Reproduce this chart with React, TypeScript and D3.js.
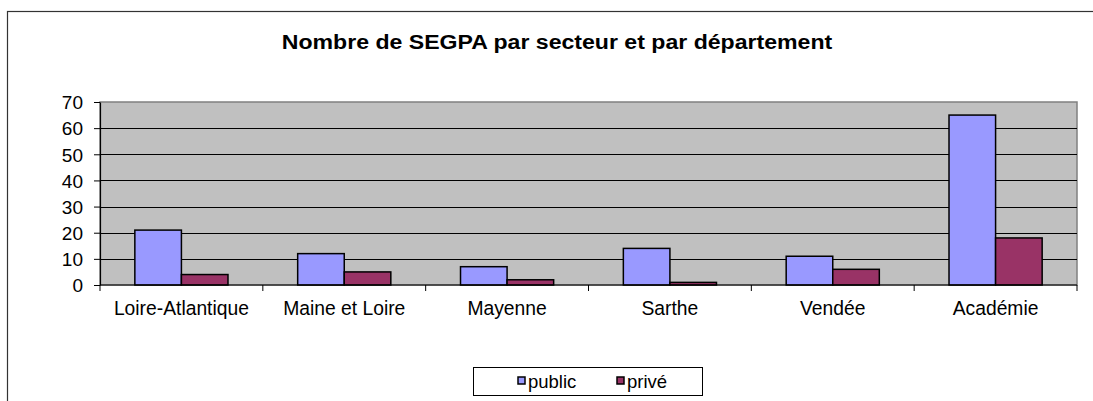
import React, { useRef, useEffect } from "react";
import * as d3 from "d3";

const categories = ["Loire-Atlantique", "Maine et Loire", "Mayenne", "Sarthe", "Vendée", "Académie"];
const seriesNames = ["public", "privé"];
const publicValues = [21, 12, 7, 14, 11, 65];
const priveValues = [4, 5, 2, 1, 6, 18];
const yTicks = [0, 10, 20, 30, 40, 50, 60, 70];
const seriesColors = ["#9999FF", "#993366"];

const App: React.FC = () => {
  const svgRef = useRef<SVGSVGElement>(null);

  useEffect(() => {
    const width = 1093;
    const height = 401;
    const plot = { left: 100, right: 1077, top: 102, bottom: 285 };
    const font = "Arial, 'Liberation Sans', sans-serif";

    const svg = d3.select(svgRef.current);
    svg.selectAll("*").remove();

    // outer chart border (cut off on right and bottom)
    svg.append("rect")
      .attr("x", 7.5).attr("y", 11.5)
      .attr("width", width + 20).attr("height", height + 20)
      .attr("fill", "white")
      .attr("stroke", "#333").attr("stroke-width", 1.2);

    svg.append("text")
      .attr("x", 557).attr("y", 49)
      .attr("text-anchor", "middle")
      .attr("font-family", font)
      .attr("font-weight", "bold")
      .attr("font-size", 21)
      .attr("transform", "translate(557,0) scale(1.1,1) translate(-557,0)")
      .text("Nombre de SEGPA par secteur et par département");

    const x = d3.scaleBand<string>().domain(categories).range([plot.left, plot.right]);
    const y = d3.scaleLinear().domain([0, 70]).range([plot.bottom, plot.top]);

    const barW = x.bandwidth() * 0.286;
    const inner = d3.scaleBand<string>().domain(seriesNames).range([0, barW * 2]);

    svg.append("rect")
      .attr("x", plot.left).attr("y", plot.top)
      .attr("width", plot.right - plot.left).attr("height", plot.bottom - plot.top)
      .attr("fill", "#C0C0C0")
      .attr("stroke", "#808080").attr("stroke-width", 1.5);

    // gridlines
    svg.append("g")
      .selectAll("line")
      .data(yTicks.filter(t => t > 0 && t < 70))
      .enter().append("line")
      .attr("x1", plot.left).attr("x2", plot.right)
      .attr("y1", d => Math.round(y(d)) + 0.5).attr("y2", d => Math.round(y(d)) + 0.5)
      .attr("stroke", "#000").attr("stroke-width", 1);

    // bars
    const data = categories.map((c, i) => ({ cat: c, vals: [publicValues[i], priveValues[i]] }));
    const groups = svg.append("g").selectAll("g")
      .data(data)
      .enter().append("g")
      .attr("transform", d => `translate(${(x(d.cat) as number) + x.bandwidth() / 2 - barW},0)`);

    groups.selectAll("rect")
      .data(d => d.vals.map((v, j) => ({ v, s: seriesNames[j], j })))
      .enter().append("rect")
      .attr("x", d => inner(d.s) as number)
      .attr("y", d => y(d.v))
      .attr("width", barW)
      .attr("height", d => y(0) - y(d.v))
      .attr("fill", d => seriesColors[d.j])
      .attr("stroke", "#000").attr("stroke-width", 1.5);

    // y axis
    const yAxis = svg.append("g")
      .attr("transform", `translate(${plot.left},0)`)
      .call(d3.axisLeft(y).tickValues(yTicks).tickSize(6).tickSizeOuter(0).tickPadding(0));
    yAxis.select(".domain").attr("stroke", "#000").attr("stroke-width", 1.2);
    yAxis.selectAll(".tick line").attr("stroke", "#000");
    yAxis.selectAll(".tick text")
      .attr("x", -17)
      .attr("dy", "0.36em")
      .attr("font-family", font)
      .attr("font-size", 19)
      .attr("fill", "#000");

    // x axis
    const xAxisG = svg.append("g").attr("transform", `translate(0,${plot.bottom})`);
    xAxisG.append("line")
      .attr("x1", plot.left).attr("x2", plot.right)
      .attr("y1", 0).attr("y2", 0)
      .attr("stroke", "#000").attr("stroke-width", 1.2);
    const boundaries = categories.map(c => x(c) as number).concat([plot.right]);
    xAxisG.selectAll("line.tk")
      .data(boundaries)
      .enter().append("line")
      .attr("class", "tk")
      .attr("x1", d => d).attr("x2", d => d)
      .attr("y1", 0).attr("y2", 6)
      .attr("stroke", "#000");
    xAxisG.selectAll("text")
      .data(categories)
      .enter().append("text")
      .attr("x", d => (x(d) as number) + x.bandwidth() / 2)
      .attr("y", 30)
      .attr("text-anchor", "middle")
      .attr("font-family", font)
      .attr("font-size", 19.3)
      .text(d => d);

    // legend
    const legend = svg.append("g");
    legend.append("rect")
      .attr("x", 473.5).attr("y", 367.5)
      .attr("width", 229).attr("height", 28)
      .attr("fill", "white")
      .attr("stroke", "#000").attr("stroke-width", 1);
    const legendX = [518, 617];
    seriesNames.forEach((s, i) => {
      legend.append("rect")
        .attr("x", legendX[i]).attr("y", 377)
        .attr("width", 7).attr("height", 7)
        .attr("fill", seriesColors[i])
        .attr("stroke", "#000").attr("stroke-width", 1.5);
      legend.append("text")
        .attr("x", legendX[i] + 10).attr("y", 388)
        .attr("font-family", font)
        .attr("font-size", 18.5)
        .text(s);
    });
  }, []);

  return (
    <svg ref={svgRef} width={1093} height={401}
      style={{ position: "absolute", left: 0, top: 0, background: "white" }} />
  );
};

export default App;
